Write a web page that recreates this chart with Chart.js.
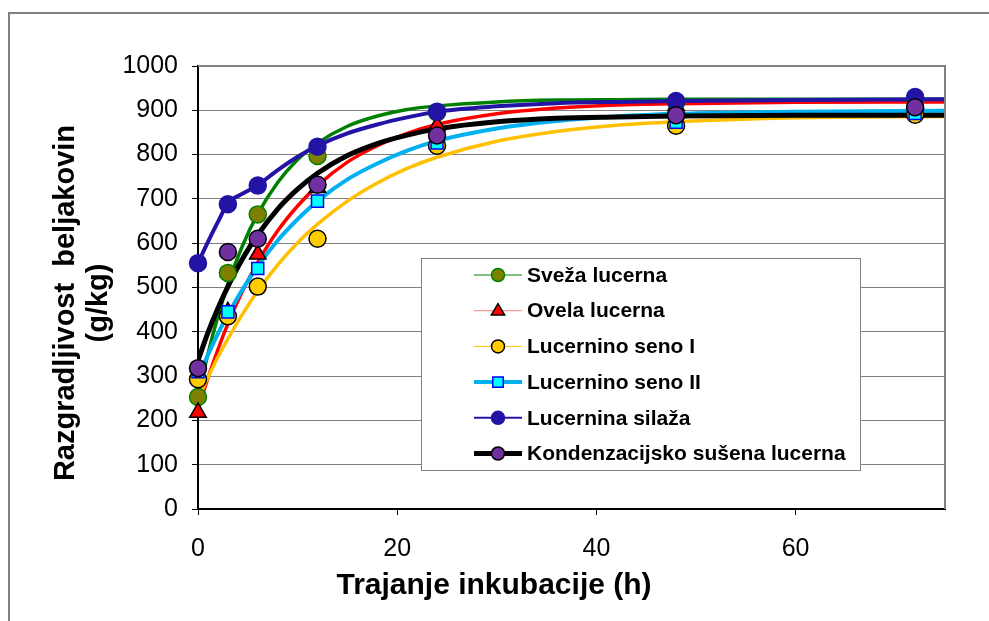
<!DOCTYPE html>
<html>
<head>
<meta charset="utf-8">
<script src="https://cdn.jsdelivr.net/npm/chart.js@4.4.0/dist/chart.umd.min.js"></script>
<style>
  html, body { margin: 0; padding: 0; background: #fff; }
  #wrap { width: 989px; height: 621px; }
</style>
</head>
<body>
<div id="wrap"><canvas id="degChart"></canvas></div>
<script>
const seriesNames = ['Sveža lucerna', 'Ovela lucerna', 'Lucernino seno I', 'Lucernino seno II', 'Lucernina silaža', 'Kondenzacijsko sušena lucerna'];

// measured protein degradability (g/kg) per incubation time (h)
const hours = [0, 3, 6, 12, 24, 48, 72];
const svezaPts   = [253, 533, 665, 797, 895, 918, 928];
const ovelaPts   = [218, 445, 575, 725, 865, 910, 916];
const senoIPts   = [293, 435, 502, 610, 820, 865, 890];
const senoIIPts  = [310, 445, 543, 695, 826, 873, 893];
const silazaPts  = [555, 688, 730, 818, 897, 921, 930];
const kondenzPts = [318, 580, 610, 732, 843, 889, 907];

// fitted degradation curves, sampled along the time axis
const fitHours = [0, 1, 2, 3, 4.5, 6, 8, 10, 12, 15, 18, 21, 24, 30, 36, 42, 48, 60, 75];
const svezaFit   = [250, 350, 435, 507, 596, 666, 737, 789, 826, 864, 887, 902, 910, 919, 923, 924, 925, 925, 925];
const ovelaFit   = [225, 296, 360, 418, 493, 557, 628, 684, 730, 783, 820, 848, 868, 892, 905, 912, 915, 918, 919];
const senoIFit   = [248, 297, 343, 384, 441, 492, 551, 601, 643, 695, 736, 769, 794, 830, 852, 866, 874, 883, 886];
const senoIIFit  = [296, 348, 396, 439, 497, 548, 606, 654, 695, 744, 780, 809, 831, 859, 876, 886, 892, 897, 899];
const silazaFit  = [555, 603, 648, 690, 712, 731, 765, 795, 820, 848, 868, 884, 897, 909, 916, 919, 921, 923, 925];
const kondenzFit = [335, 398, 453, 502, 566, 619, 677, 722, 758, 798, 825, 844, 858, 874, 882, 885, 887, 889, 889];

const yTicks = { min: 0, max: 1000, step: 100 };
const xTicks = { min: 0, max: 75, step: 20 };

const pointSets = [svezaPts, ovelaPts, senoIPts, senoIIPts, silazaPts, kondenzPts];
const fitSets = [svezaFit, ovelaFit, senoIFit, senoIIFit, silazaFit, kondenzFit];

const curveColor = ['#008000', '#ff0000', '#ffc000', '#00b0f0', '#2314a6', '#000000'];
const curveWidth = [3.5, 3.5, 3.5, 4, 4, 5];
const markFill   = ['#808000', '#ff0000', '#ffcc00', '#00ffff', '#2314a6', '#7030a0'];
const markEdge   = ['#008000', '#000000', '#000000', '#0000ff', '#2314a6', '#000000'];
const markShape  = ['circle', 'triangle', 'circle', 'rect', 'circle', 'circle'];
const legendLine = [{ c: '#008000', w: 1 }, { c: '#ff8080', w: 1 }, { c: '#ffc000', w: 1 },
                    { c: '#00b0f0', w: 4 }, { c: '#2314a6', w: 2 }, { c: '#000000', w: 5 }];

const datasets = [];
fitSets.forEach((fit, i) => {
    datasets.push({
        label: seriesNames[i] + ' (fit)',
        data: fitHours.map((t, k) => ({ x: t, y: fit[k] })),
        showLine: true,
        borderColor: curveColor[i],
        borderWidth: curveWidth[i],
        pointRadius: 0,
        cubicInterpolationMode: 'monotone',
        order: 20 - i
    });
});
pointSets.forEach((pts, i) => {
    datasets.push({
        label: seriesNames[i],
        data: hours.map((t, k) => ({ x: t, y: pts[k] })),
        showLine: false,
        clip: false,
        pointStyle: markShape[i],
        pointRadius: markShape[i] === 'triangle' ? 9.5 : 8.5,
        pointBackgroundColor: markFill[i],
        pointBorderColor: markEdge[i],
        pointBorderWidth: 1.5,
        order: 5 - i
    });
});

function drawMark(ctx, shape, x, y, r) {
    ctx.beginPath();
    if (shape === 'triangle') {
        ctx.moveTo(x, y - r);
        ctx.lineTo(x + r * 0.95, y + r * 0.6);
        ctx.lineTo(x - r * 0.95, y + r * 0.6);
        ctx.closePath();
    } else if (shape === 'rect') {
        ctx.rect(x - r * 0.8, y - r * 0.8, r * 1.6, r * 1.6);
    } else {
        ctx.arc(x, y, r, 0, Math.PI * 2);
    }
    ctx.fill();
    ctx.stroke();
}

const framePlugin = {
    id: 'frame',
    beforeDraw(chart) {
        const ctx = chart.ctx;
        ctx.save();
        ctx.fillStyle = '#fff';
        ctx.fillRect(0, 0, chart.width, chart.height);
        ctx.strokeStyle = '#808080';
        ctx.lineWidth = 2;
        ctx.beginPath();
        ctx.moveTo(9, chart.height);
        ctx.lineTo(9, 13);
        ctx.lineTo(chart.width, 13);
        ctx.stroke();
        ctx.restore();
    },
    afterDraw(chart) {
        const ctx = chart.ctx;
        const ca = chart.chartArea;
        ctx.save();
        // top and right edges of the plot area
        ctx.strokeStyle = '#808080';
        ctx.lineWidth = 2;
        ctx.beginPath();
        ctx.moveTo(ca.left, ca.top);
        ctx.lineTo(ca.right, ca.top);
        ctx.lineTo(ca.right, ca.bottom);
        ctx.stroke();

        // axis titles
        ctx.fillStyle = '#000';
        ctx.font = 'bold 30px "Liberation Sans", Arial, sans-serif';
        ctx.textAlign = 'center';
        ctx.textBaseline = 'middle';
        ctx.fillText('Trajanje inkubacije (h)', 494, 586);
        ctx.font = 'bold 29px "Liberation Sans", Arial, sans-serif';
        ctx.translate(82, 303);
        ctx.rotate(-Math.PI / 2);
        ctx.fillText('Razgradljivost  beljakovin', 0, -16);
        ctx.fillText('(g/kg)', 0, 17);
        ctx.restore();

        // legend box inside the plot
        ctx.save();
        const bx = ca.left + 223, by = ca.top + 192, bw = 439, bh = 212;
        ctx.fillStyle = '#fff';
        ctx.fillRect(bx, by, bw, bh);
        ctx.strokeStyle = '#808080';
        ctx.lineWidth = 1;
        ctx.strokeRect(bx + 0.5, by + 0.5, bw, bh);
        ctx.font = 'bold 21px "Liberation Sans", Arial, sans-serif';
        ctx.textAlign = 'left';
        ctx.textBaseline = 'middle';
        seriesNames.forEach((name, i) => {
            const y = by + 17 + i * 35.7;
            ctx.strokeStyle = legendLine[i].c;
            ctx.lineWidth = legendLine[i].w;
            ctx.beginPath();
            ctx.moveTo(bx + 53, y);
            ctx.lineTo(bx + 101, y);
            ctx.stroke();
            ctx.fillStyle = markFill[i];
            ctx.strokeStyle = markEdge[i];
            ctx.lineWidth = 1.5;
            drawMark(ctx, markShape[i], bx + 77, y, markShape[i] === 'triangle' ? 7 : 6.5);
            ctx.fillStyle = '#000';
            ctx.fillText(name, bx + 106, y + 1);
        });
        ctx.restore();
    }
};

new Chart(document.getElementById('degChart'), {
    type: 'scatter',
    data: { datasets: datasets },
    options: {
        responsive: true,
        maintainAspectRatio: false,
        animation: false,
        layout: { padding: { left: 0, top: 66, right: 44, bottom: 0 } },
        plugins: { legend: { display: false }, tooltip: { enabled: false } },
        scales: {
            x: {
                type: 'linear',
                min: xTicks.min,
                max: xTicks.max,
                afterFit: s => { s.height = 112; },
                ticks: {
                    stepSize: xTicks.step,
                    includeBounds: false,
                    color: '#000',
                    padding: 19,
                    maxRotation: 0,
                    callback: v => String(v),
                    font: { family: '"Liberation Sans", Arial, sans-serif', size: 25 }
                },
                grid: { drawOnChartArea: false, drawTicks: true, tickLength: 6, tickColor: '#000' },
                border: { color: '#000', width: 2 }
            },
            y: {
                type: 'linear',
                min: yTicks.min,
                max: yTicks.max,
                afterFit: s => { s.width = 198; },
                ticks: {
                    stepSize: yTicks.step,
                    color: '#000',
                    padding: 14,
                    callback: v => String(v),
                    font: { family: '"Liberation Sans", Arial, sans-serif', size: 25 }
                },
                grid: { color: '#808080', lineWidth: 1, tickLength: 6, tickColor: '#000' },
                border: { color: '#000', width: 2 }
            }
        }
    },
    plugins: [framePlugin]
});
</script>
</body>
</html>
